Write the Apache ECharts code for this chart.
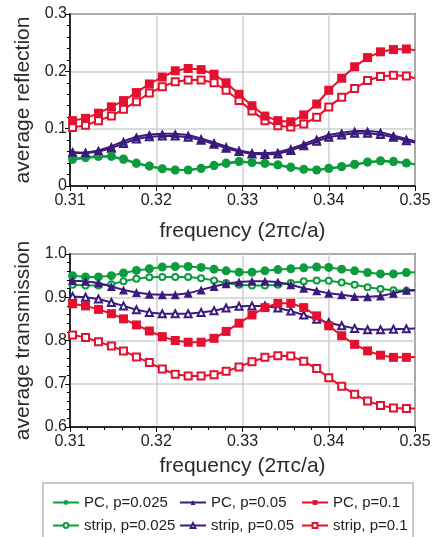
<!DOCTYPE html>
<html>
<head>
<meta charset="utf-8">
<script src="https://cdn.jsdelivr.net/npm/echarts@6/dist/echarts.min.js"></script>
<style>
  html, body { margin: 0; padding: 0; background: #fff; }
  #chart { width: 435px; height: 537px; }
</style>
</head>
<body>
<div id="chart"></div>
<script>
// frequency points (2πc/a), last one is the right edge of the plot
const freq = [0.3103, 0.3118, 0.3133, 0.3148, 0.3162, 0.3177, 0.3192, 0.3207, 0.3222, 0.3237,
  0.3252, 0.3267, 0.3281, 0.3296, 0.3311, 0.3326, 0.3341, 0.3356, 0.3371, 0.3386,
  0.3400, 0.3415, 0.3430, 0.3445, 0.3460, 0.3475, 0.3490, 0.3500];

// average reflection
const reflPC025 = [0.047, 0.050, 0.052, 0.052, 0.047, 0.040, 0.035, 0.030, 0.028, 0.028,
  0.031, 0.036, 0.040, 0.043, 0.041, 0.040, 0.037, 0.033, 0.029, 0.028,
  0.031, 0.034, 0.038, 0.042, 0.044, 0.043, 0.040, 0.038];
const reflStrip025 = [0.046, 0.049, 0.051, 0.051, 0.046, 0.039, 0.034, 0.030, 0.028, 0.028,
  0.030, 0.035, 0.039, 0.042, 0.041, 0.039, 0.036, 0.032, 0.029, 0.028,
  0.030, 0.033, 0.037, 0.041, 0.043, 0.042, 0.040, 0.038];
const reflPC05 = [0.059, 0.058, 0.062, 0.069, 0.078, 0.086, 0.090, 0.091, 0.091, 0.089,
  0.083, 0.076, 0.069, 0.062, 0.058, 0.057, 0.059, 0.065, 0.073, 0.082,
  0.089, 0.093, 0.096, 0.096, 0.094, 0.088, 0.082, 0.078];
const reflStrip05 = [0.058, 0.057, 0.060, 0.066, 0.074, 0.082, 0.086, 0.087, 0.087, 0.085,
  0.080, 0.073, 0.066, 0.060, 0.056, 0.055, 0.056, 0.062, 0.070, 0.078,
  0.085, 0.089, 0.092, 0.092, 0.090, 0.085, 0.079, 0.076];
const reflPC1 = [0.114, 0.118, 0.127, 0.138, 0.149, 0.163, 0.178, 0.190, 0.201, 0.205,
  0.203, 0.195, 0.180, 0.160, 0.140, 0.122, 0.114, 0.112, 0.124, 0.143,
  0.167, 0.188, 0.208, 0.224, 0.234, 0.238, 0.239, 0.237];
const reflStrip1 = [0.102, 0.106, 0.114, 0.122, 0.134, 0.147, 0.162, 0.173, 0.182, 0.185,
  0.185, 0.180, 0.167, 0.149, 0.131, 0.114, 0.105, 0.103, 0.108, 0.120,
  0.138, 0.155, 0.170, 0.184, 0.191, 0.193, 0.192, 0.188];

// average transmission
const tranPC025 = [0.950, 0.947, 0.947, 0.950, 0.956, 0.962, 0.966, 0.970, 0.971, 0.971,
  0.969, 0.965, 0.961, 0.958, 0.958, 0.961, 0.964, 0.966, 0.968, 0.970,
  0.969, 0.965, 0.961, 0.957, 0.954, 0.954, 0.957, 0.958];
const tranStrip025 = [0.929, 0.927, 0.927, 0.930, 0.937, 0.943, 0.946, 0.947, 0.947, 0.947,
  0.944, 0.939, 0.933, 0.929, 0.927, 0.927, 0.929, 0.933, 0.937, 0.939,
  0.938, 0.934, 0.929, 0.923, 0.919, 0.916, 0.915, 0.915];
const tranPC05 = [0.938, 0.937, 0.933, 0.925, 0.917, 0.911, 0.907, 0.906, 0.906, 0.909,
  0.917, 0.925, 0.931, 0.935, 0.937, 0.937, 0.935, 0.929, 0.921, 0.915,
  0.909, 0.906, 0.902, 0.901, 0.903, 0.909, 0.916, 0.917];
const tranStrip05 = [0.902, 0.900, 0.896, 0.888, 0.880, 0.871, 0.865, 0.862, 0.862, 0.862,
  0.865, 0.869, 0.875, 0.879, 0.880, 0.880, 0.875, 0.868, 0.859, 0.849,
  0.841, 0.834, 0.828, 0.825, 0.825, 0.826, 0.827, 0.828];
const tranPC1 = [0.885, 0.880, 0.872, 0.862, 0.850, 0.836, 0.822, 0.809, 0.800, 0.796,
  0.796, 0.805, 0.821, 0.840, 0.859, 0.876, 0.886, 0.886, 0.876, 0.857,
  0.834, 0.811, 0.791, 0.776, 0.766, 0.761, 0.761, 0.762];
const tranStrip1 = [0.813, 0.807, 0.797, 0.787, 0.776, 0.762, 0.749, 0.734, 0.722, 0.718,
  0.718, 0.721, 0.729, 0.739, 0.751, 0.761, 0.765, 0.764, 0.752, 0.735,
  0.714, 0.694, 0.676, 0.660, 0.650, 0.644, 0.643, 0.643];

const names = ["PC, p=0.025", "PC, p=0.05", "PC, p=0.1", "strip, p=0.025", "strip, p=0.05", "strip, p=0.1"];

const green = "#0c9c3e";
const purple = "#3a1a7c";
const red = "#e4102f";
const font = "Liberation Sans, Arial, sans-serif";

var dom = document.getElementById('chart');
var myChart = echarts.init(dom, null, { renderer: 'canvas' });

// pair x with y, the edge point gets no marker
let pts = (ys) => ys.map((v, i) => i == ys.length - 1
  ? { value: [freq[i], v], symbolSize: 0 }
  : [freq[i], v]);

let mkSeries = (name, ys, idx, color, symbol, size) => ({
  name: name,
  type: 'line',
  xAxisIndex: idx,
  yAxisIndex: idx,
  data: pts(ys),
  symbol: symbol,
  symbolSize: size,
  showAllSymbol: true,
  lineStyle: { color: color, width: 2 },
  itemStyle: { color: color, borderColor: color, borderWidth: symbol.indexOf('empty') == 0 ? 1.5 : 0 },
  emphasis: { disabled: true },
  animation: false,
  z: symbol.indexOf('empty') == 0 ? 2 : 3
});

let xAx = (idx, gap) => ({
  type: 'value',
  gridIndex: idx,
  min: 0.31,
  max: 0.35,
  interval: 0.01,
  name: 'frequency (2\u03c0c/a)',
  nameLocation: 'middle',
  nameGap: gap,
  nameTextStyle: { fontFamily: font, fontSize: 21, color: '#2a2a2a' },
  axisLine: { lineStyle: { color: '#000', width: 1.5 } },
  axisTick: { show: true, length: 5, lineStyle: { color: '#000' } },
  minorTick: { show: true, splitNumber: 5, length: 3, lineStyle: { color: '#000' } },
  splitLine: { show: true, lineStyle: { color: '#cfcfcf', width: 1.5 } },
  axisLabel: { fontFamily: font, fontSize: 16, color: '#222', margin: 7, formatter: v => v.toFixed(2) }
});

let yAx = (idx, name, min, max) => ({
  type: 'value',
  gridIndex: idx,
  min: min,
  max: max,
  interval: 0.1,
  name: name,
  nameLocation: 'middle',
  nameGap: 36,
  nameTextStyle: { fontFamily: font, fontSize: 21, color: '#2a2a2a' },
  axisLine: { show: true, lineStyle: { color: '#000', width: 1.5 } },
  axisTick: { show: true, length: 5, lineStyle: { color: '#000' } },
  minorTick: { show: true, splitNumber: 5, length: 3, lineStyle: { color: '#000' } },
  splitLine: { show: true, lineStyle: { color: '#cfcfcf', width: 1.5 } },
  axisLabel: { fontFamily: font, fontSize: 16, color: '#222', margin: 3, formatter: v => v == 0 ? '0' : v.toFixed(1) }
});

// one legend per entry so the columns line up like the original
const legCols = [52, 179, 301];
const legRows = [495, 518];
let legends = names.map((n, i) => ({
  data: [n],
  left: legCols[i % 3],
  top: legRows[Math.floor(i / 3)],
  padding: 0,
  itemWidth: 26,
  itemHeight: 6,
  itemGap: 5,
  selectedMode: false,
  textStyle: { fontFamily: font, fontSize: 15, color: '#222' }
}));

var option = {
  backgroundColor: '#fff',
  animation: false,
  grid: [
    { left: 70, top: 14, width: 345, height: 172, show: true, borderColor: '#000', borderWidth: 1.5 },
    { left: 70, top: 254, width: 345, height: 173, show: true, borderColor: '#000', borderWidth: 1.5 }
  ],
  xAxis: [xAx(0, 35), xAx(1, 29)],
  yAxis: [
    yAx(0, 'average reflection', 0, 0.3),
    yAx(1, 'average transmission', 0.6, 1.0)
  ],
  legend: legends,
  graphic: [{
    type: 'rect',
    shape: { x: 43, y: 483, width: 370, height: 70 },
    style: { fill: 'none', stroke: '#c8c8c8', lineWidth: 2 },
    silent: true
  }],
  series: [
    mkSeries(names[3], reflStrip025, 0, green, 'emptyCircle', 6),
    mkSeries(names[4], reflStrip05, 0, purple, 'emptyTriangle', 7),
    mkSeries(names[5], reflStrip1, 0, red, 'emptyRect', 7),
    mkSeries(names[0], reflPC025, 0, green, 'circle', 9),
    mkSeries(names[1], reflPC05, 0, purple, 'triangle', 9),
    mkSeries(names[2], reflPC1, 0, red, 'rect', 9),
    mkSeries(names[3], tranStrip025, 1, green, 'emptyCircle', 6),
    mkSeries(names[4], tranStrip05, 1, purple, 'emptyTriangle', 7),
    mkSeries(names[5], tranStrip1, 1, red, 'emptyRect', 7),
    mkSeries(names[0], tranPC025, 1, green, 'circle', 9),
    mkSeries(names[1], tranPC05, 1, purple, 'triangle', 9),
    mkSeries(names[2], tranPC1, 1, red, 'rect', 9)
  ]
};

if (option && typeof option === 'object') {
  myChart.setOption(option);
}

window.addEventListener('resize', myChart.resize);
</script>
</body>
</html>
